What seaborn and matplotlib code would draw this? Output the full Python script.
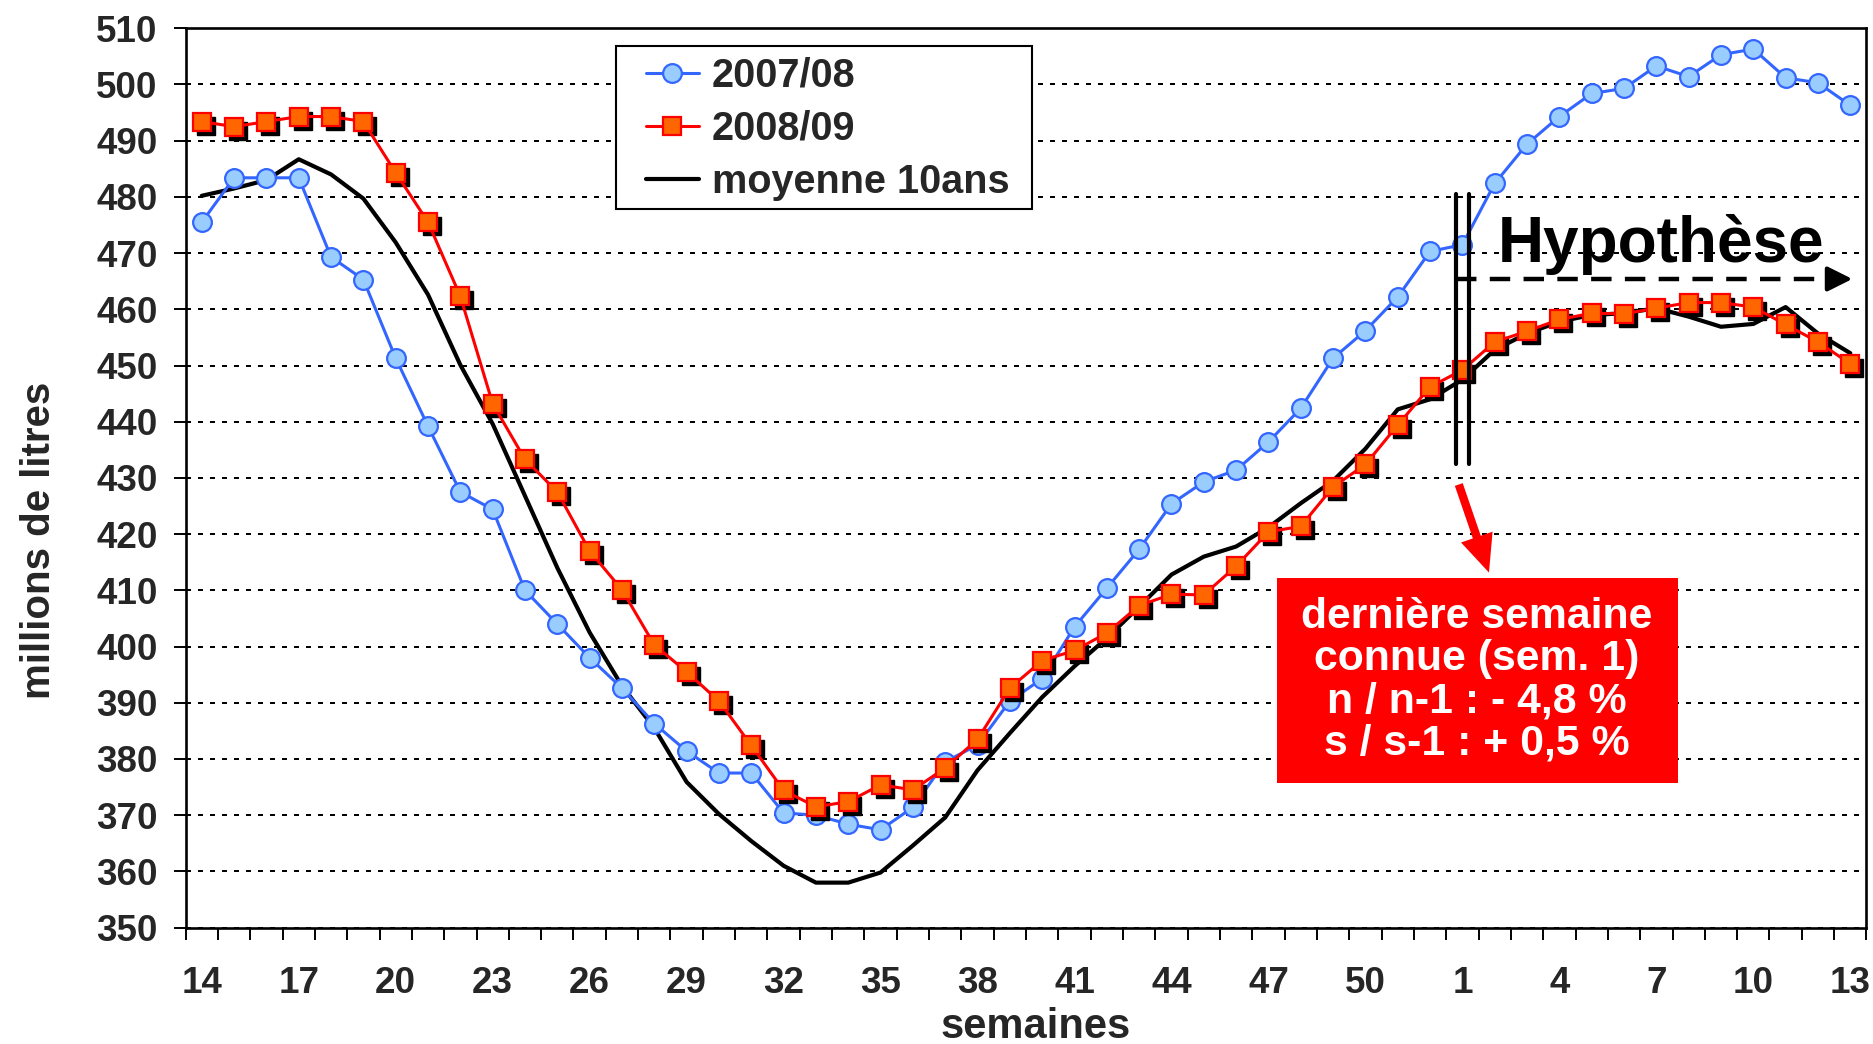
import numpy as np
import pandas as pd
import matplotlib
matplotlib.use("Agg")
import matplotlib.pyplot as plt
import matplotlib.transforms as mtransforms
from matplotlib.patches import Rectangle
import seaborn as sns

# semaines : 14 -> 52 puis 1 -> 13
weeks = list(range(14, 53)) + list(range(1, 14))

conso_0708 = [475.5, 483.4, 483.4, 483.4, 469.3, 465.3, 451.3, 439.2, 427.5, 424.4,
              410.0, 404.0, 398.0, 392.6, 386.3, 381.4, 377.5, 377.5, 370.4, 370.0,
              368.4, 367.4, 371.4, 379.5, 382.5, 390.3, 394.3, 403.5, 410.4, 417.3,
              425.4, 429.3, 431.4, 436.4, 442.4, 451.3, 456.2, 462.2, 470.3,
              471.5, 482.4, 489.4, 494.3, 498.4, 499.3, 503.3, 501.4, 505.3, 506.3,
              501.2, 500.3, 496.3]

conso_0809 = [493.4, 492.5, 493.4, 494.3, 494.3, 493.4, 484.3, 475.5, 462.3, 443.2,
              433.3, 427.5, 417.0, 410.1, 400.3, 395.5, 390.3, 382.4, 374.4, 371.5,
              372.4, 375.4, 374.5, 378.4, 383.5, 392.6, 397.5, 399.3, 402.4, 407.3,
              409.3, 409.2, 414.3, 420.4, 421.4, 428.4, 432.4, 439.4, 446.2,
              449.2, 454.2, 456.1, 458.2, 459.3, 459.2, 460.2, 461.2, 461.2, 460.4,
              457.3, 454.2, 450.3]

moyenne_10ans = [480.2, 481.5, 483.0, 486.7, 484.0, 479.7, 471.9, 462.6, 450.1, 439.6,
                 426.8, 414.0, 402.5, 393.0, 385.5, 375.9, 370.2, 365.4, 361.0, 358.0,
                 358.0, 359.8, 364.6, 369.6, 378.0, 384.6, 391.0, 396.5, 401.5, 407.1,
                 412.8, 416.0, 417.8, 421.2, 425.5, 429.5, 435.2, 442.2, 444.0,
                 447.5, 452.8, 455.7, 457.8, 459.0, 459.3, 460.2, 458.7, 456.9, 457.4,
                 460.4, 455.7, 452.2]

series_labels = ["2007/08", "2008/09", "moyenne 10ans"]
info_lines = ["dernière semaine", "connue (sem. 1)", "n / n-1 : - 4,8 %", "s / s-1 : + 0,5 %"]

df = pd.DataFrame({"pos": np.arange(len(weeks)), "semaine": weeks,
                   "c0708": conso_0708, "c0809": conso_0809, "moy": moyenne_10ans})

sns.set_style("white")
plt.rcParams["font.family"] = ["Liberation Sans", "DejaVu Sans"]
plt.rcParams["font.weight"] = "bold"
plt.rcParams["axes.labelweight"] = "bold"

fig = plt.figure(figsize=(18.73, 10.44), dpi=100)
ax = fig.add_axes([0.0991, 0.1115, 0.8974, 0.8614])

sns.lineplot(data=df, x="pos", y="moy", ax=ax, color="black", lw=3.0,
             label=series_labels[2], zorder=3)
sns.lineplot(data=df, x="pos", y="c0708", ax=ax, color="#3366FF", lw=2.2,
             marker="o", markersize=13.5, markerfacecolor="#99CCFF",
             markeredgecolor="#3366FF", markeredgewidth=1.6,
             label=series_labels[0], zorder=4)

# ombre des carrés
shadow = ax.transData + mtransforms.ScaledTranslation(4 / 100, -4 / 100, fig.dpi_scale_trans)
ax.plot(df["pos"], df["c0809"], "s", color="black", markersize=13, transform=shadow, zorder=4.5)
sns.lineplot(data=df, x="pos", y="c0809", ax=ax, color="#FF0000", lw=2.2,
             marker="s", markersize=13, markerfacecolor="#FF6600",
             markeredgecolor="#FF0000", markeredgewidth=1.6,
             label=series_labels[1], zorder=5)

ax.set_xlim(-0.5, len(weeks) - 0.5)
ax.set_ylim(350, 510)
ax.set_yticks(np.arange(350, 511, 10))
ax.set_xticks(np.arange(-0.5, len(weeks), 1))
ax.set_xticklabels([])
ax.set_xticks(np.arange(0, len(weeks), 3), minor=True)
ax.set_xticklabels([str(w) for w in weeks[::3]], minor=True)
ax.tick_params(axis="x", which="major", direction="out", length=8.6, width=1.4, color="black")
ax.tick_params(axis="x", which="minor", length=0, pad=28, labelsize=26.5)
ax.tick_params(axis="y", direction="out", length=8.6, width=1.4, color="black",
               pad=11.5, labelsize=26.5)
ax.tick_params(left=True, bottom=True)

ax.yaxis.grid(True, linestyle=(0, (2.5, 3.5)), color="black", lw=1.44)
ax.xaxis.grid(False)
ax.set_axisbelow(True)
for sp in ax.spines.values():
    sp.set_visible(True)
    sp.set_color("black")
    sp.set_linewidth(1.9)

ax.set_xlabel("semaines", fontsize=30, fontweight="bold")
ax.xaxis.set_label_coords(0.506, -0.088)
ax.set_ylabel("millions de litres", fontsize=29, fontweight="bold", va="center")
ax.yaxis.set_label_coords(-0.087, 0.431)

# cadre de légende dessiné à part pour caler les marges
ax.add_patch(Rectangle((0.2558, 0.799), 0.2475, 0.1817, transform=ax.transAxes,
                       facecolor="white", edgecolor="black", lw=1.5, zorder=5.6))
handles, labels = ax.get_legend_handles_labels()
order = [labels.index(l) for l in series_labels]
leg = ax.legend([handles[i] for i in order], [labels[i] for i in order],
                loc="upper left", bbox_to_anchor=(0.2739, 0.9687), fontsize=28.5,
                frameon=False, handlelength=1.33, handletextpad=0.33,
                labelspacing=0.39, borderpad=0, borderaxespad=0)
leg.set_zorder(6)

# séparateur dernière semaine connue
sep = weeks.index(1)
for dx in (-0.19, 0.19):
    ax.plot([sep + dx, sep + dx], [432.5, 480.6], color="black", lw=3.0, zorder=6)

# flèche hypothèse
ax.plot([sep - 0.2, len(weeks) - 1.25], [465.4, 465.4], color="black", lw=3.2,
        linestyle=(0, (4.6, 3.0)), zorder=6)
ax.annotate("", xy=(len(weeks) - 0.85, 465.4), xytext=(len(weeks) - 1.5, 465.4),
            arrowprops=dict(arrowstyle="-|>,head_length=1.5,head_width=0.75",
                            color="black", lw=3.0, mutation_scale=10), zorder=6)
ax.text(0.7808, 0.7405, "Hypothèse", transform=ax.transAxes, fontsize=46,
        ha="left", va="baseline", color="black", zorder=7)

# flèche rouge + encadré
ax.annotate("", xy=(sep + 0.85, 412.7), xytext=(sep - 0.14, 429.3),
            arrowprops=dict(arrowstyle="simple,head_length=2.7,head_width=2.4,tail_width=0.6",
                            fc="#FF0000", ec="#FF0000", lw=0, mutation_scale=10), zorder=7)
ax.add_patch(Rectangle((0.6491, 0.1611), 0.2386, 0.2273, transform=ax.transAxes,
                       facecolor="#FF0000", edgecolor="none", zorder=7))
ax.text(0.7684, 0.2748, "\n".join(info_lines), transform=ax.transAxes, fontsize=30.8,
        color="white", ha="center", va="center", multialignment="center",
        linespacing=1.07, zorder=8)

fig.savefig("out.png", dpi=100)
